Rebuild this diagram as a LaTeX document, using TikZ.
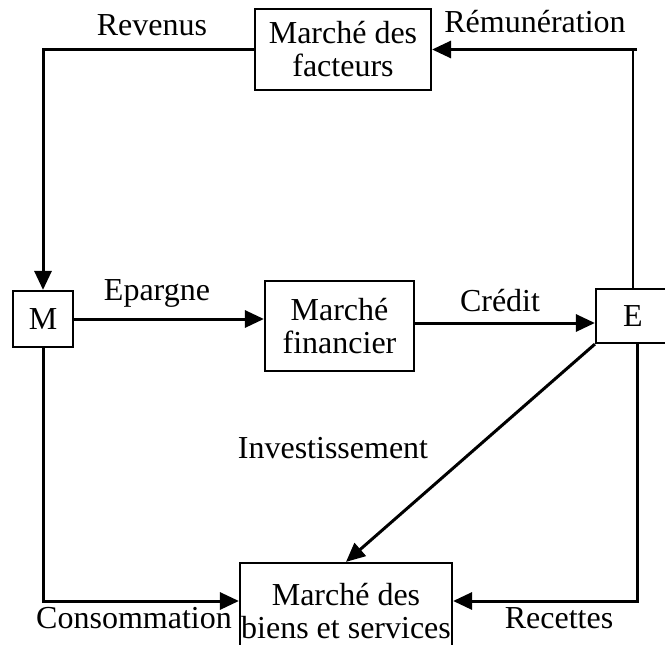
\documentclass[tikz,border=0pt]{standalone}
\usepackage{fontspec}
\setmainfont{Liberation Serif}
\usetikzlibrary{arrows.meta}
\tikzset{
  box/.style={draw, line width=2.2pt, align=center, inner sep=0pt},
  lbl/.style={anchor=base, inner sep=0pt},
  arr/.style={line width=3pt, -{Triangle[length=19pt,width=17pt]}},
  thinln/.style={line width=2pt},
}
\begin{document}
\begin{tikzpicture}[x=1pt, y=-1pt, font=\fontsize{32}{33}\selectfont]
\useasboundingbox (0,0) rectangle (665,645);
% markets and agents
\node[box, minimum width=176pt, minimum height=81pt] (mfac) at (343,49.5) {Marché des\\facteurs};
\node[box, minimum width=60pt, minimum height=56pt] (M) at (43,319) {M};
\node[box, minimum width=149pt, minimum height=90pt] (mfin) at (339.5,326) {Marché\\financier};
\node[box, minimum width=74pt, minimum height=54pt] (E) at (633,316) {E};
\node[box, minimum width=212pt, minimum height=96pt] (mbs) at (346,611) {Marché des\\biens et services};
\coordinate (cred) at ([yshift=-7pt]E.west);
\coordinate (ecorner) at (E.north |- mfac.east);
% flows
\draw[arr] (mfac.west) -| (M.north);
\draw[thinln] (E.north) -- (ecorner);
\draw[arr] ([xshift=4pt]ecorner) -- (mfac.east);
\draw[arr] (M.east) -- (M.east -| mfin.west);
\draw[arr] (mfin.east |- cred) -- (cred);
\draw[arr] (M.south) |- ([yshift=10pt]mbs.west);
\draw[arr] ([xshift=4pt]E.south) |- ([yshift=10pt]mbs.east);
\draw[arr] (E.south west) -- (mbs.north);
% labels
\node[lbl] (lrev) at (152,35.5) {Revenus};
\node[lbl] (lrem) at (535,32) {Rémunération};
\node[lbl] (lepa) at (157,300) {Epargne};
\node[lbl] (lcre) at (500,311) {Crédit};
\node[lbl] (linv) at (333,458) {Investissement};
\node[lbl] (lcon) at (134,628) {Consommation};
\node[lbl] (lrec) at (559,628) {Recettes};
\end{tikzpicture}
\end{document}
